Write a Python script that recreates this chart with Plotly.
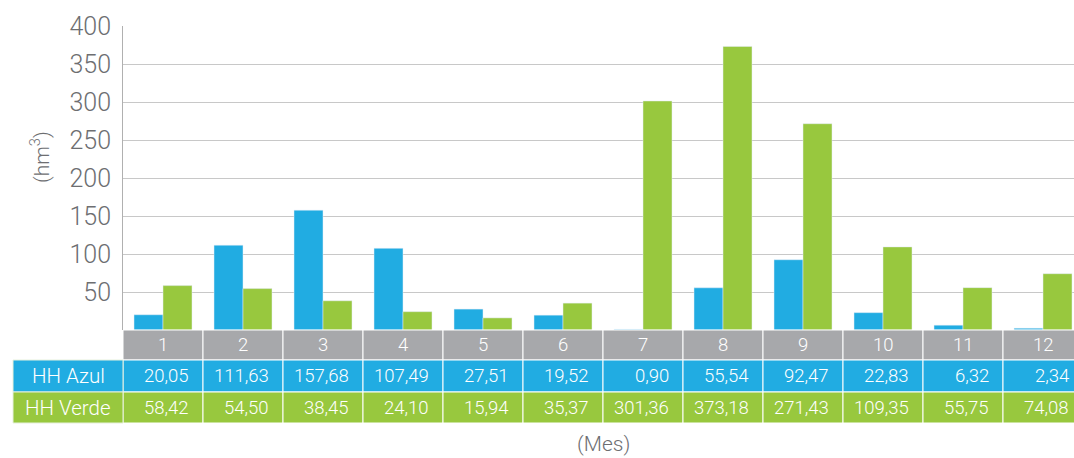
import plotly.graph_objects as go

months = [1, 2, 3, 4, 5, 6, 7, 8, 9, 10, 11, 12]
azul = [20.05, 111.63, 157.68, 107.49, 27.51, 19.52, 0.90, 55.54, 92.47, 22.83, 6.32, 2.34]
verde = [58.42, 54.50, 38.45, 24.10, 15.94, 35.37, 301.36, 373.18, 271.43, 109.35, 55.75, 74.08]
row_labels = ["HH Azul", "HH Verde"]
y_ticks = [50, 100, 150, 200, 250, 300, 350, 400]

BLUE = "#21ace2"
GREEN = "#98c83e"
GRAY = "#a7a8ab"
TXT = "#6d6e71"
FONT = "Roboto, sans-serif"
WT = 300

W, H = 1074, 458
L, T, B = 123, 26, 128
plot_h = H - T - B
plot_w = W - L
col_px = 80.0

def fmt(v):
    return f"{v:.2f}".replace(".", ",")

fig = go.Figure()
fig.add_trace(go.Bar(x=months, y=azul, marker_color=BLUE, name=row_labels[0]))
fig.add_trace(go.Bar(x=months, y=verde, marker_color=GREEN, name=row_labels[1]))

def py(px):
    return (T + plot_h - px) / plot_h

rows = [
    (py(330), py(360), GRAY),
    (py(360), py(392), BLUE),
    (py(392), py(423), GREEN),
]

shapes = []
annotations = []
for m in months:
    for (y1, y0, c) in rows:
        shapes.append(dict(type="rect", xref="x", yref="paper", x0=m - 0.5, x1=m + 0.5,
                           y0=y0, y1=y1, fillcolor=c, line=dict(color="white", width=1),
                           layer="above"))
lx0 = (13 - L) / plot_w
for (y1, y0, c) in rows[1:]:
    shapes.append(dict(type="rect", xref="paper", yref="paper", x0=lx0, x1=0,
                       y0=y0, y1=y1, fillcolor=c, line=dict(color="#e6f0dc", width=1),
                       layer="above"))

cell_font = dict(family=FONT, size=18.5, color="white", weight=WT)
for i, m in enumerate(months):
    annotations.append(dict(xref="x", yref="paper", x=m, y=(rows[0][0] + rows[0][1]) / 2,
                            text=str(m), showarrow=False, font=cell_font,
                            xanchor="center", yanchor="middle"))
    for (vals, r) in ((azul, rows[1]), (verde, rows[2])):
        annotations.append(dict(xref="x", yref="paper", x=m, y=(r[0] + r[1]) / 2,
                                text=fmt(vals[i]), showarrow=False, font=cell_font,
                                xanchor="right", yanchor="middle", xshift=col_px / 2 - 12))
for lab, r in zip(row_labels, rows[1:]):
    annotations.append(dict(xref="paper", yref="paper", x=lx0 / 2, y=(r[0] + r[1]) / 2,
                            text=lab, showarrow=False,
                            font=dict(family=FONT, size=20.5, color="white", weight=WT),
                            xanchor="center", yanchor="middle"))

annotations.append(dict(xref="paper", yref="paper", x=(40 - L) / plot_w, y=py(157),
                        text="(hm<sup>3</sup>)", textangle=-90, showarrow=False,
                        font=dict(family=FONT, size=21, color=TXT, weight=WT),
                        xanchor="center", yanchor="middle"))
annotations.append(dict(xref="paper", yref="paper", x=(603 - L) / plot_w, y=py(444),
                        text="(Mes)", showarrow=False,
                        font=dict(family=FONT, size=21, color=TXT, weight=WT),
                        xanchor="center", yanchor="middle"))

x_hi = 0.5 + plot_w / col_px
fig.update_layout(
    width=W, height=H,
    margin=dict(l=L, r=0, t=T, b=B, pad=0),
    paper_bgcolor="white", plot_bgcolor="white",
    barmode="group", bargap=0.275, bargroupgap=0,
    showlegend=False,
    shapes=shapes, annotations=annotations,
    xaxis=dict(range=[0.5, x_hi], showticklabels=False, showgrid=False,
               zeroline=False, showline=False, ticks=""),
    yaxis=dict(range=[0, 400], tickvals=y_ticks, showgrid=True, gridcolor="#c8c8c8",
               gridwidth=1, zeroline=False, showline=True, linecolor="#b0b0b0",
               linewidth=1, ticks="", ticklabelstandoff=6,
               tickfont=dict(family=FONT, size=25, color=TXT, weight=WT)),
)
fig.write_html("out.html")
